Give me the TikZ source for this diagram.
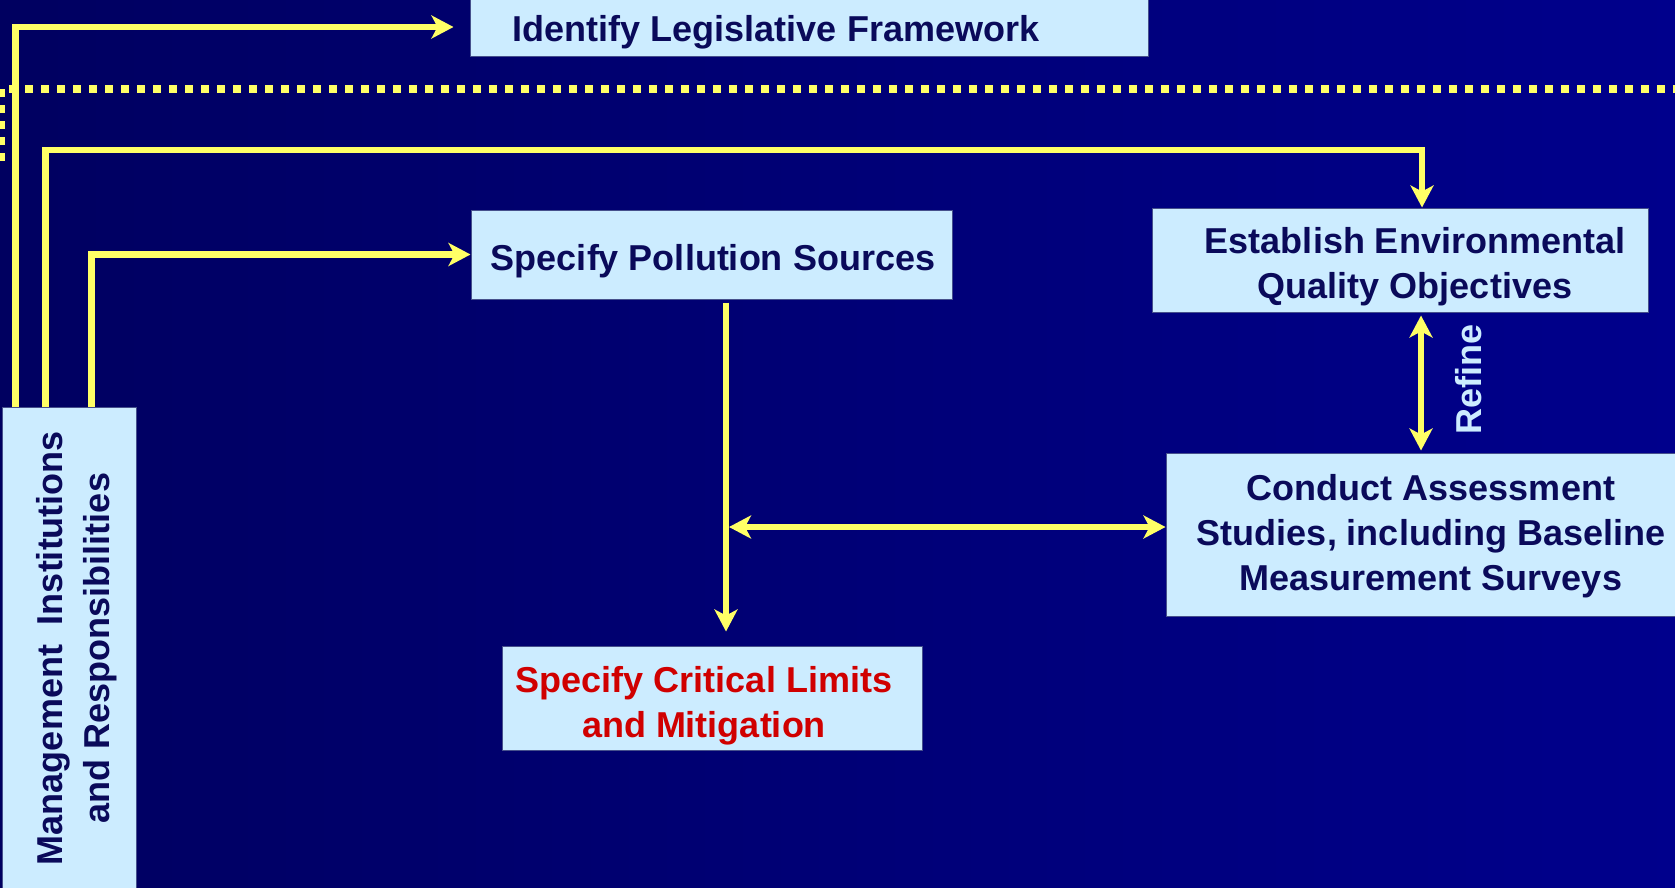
\documentclass[tikz,border=0pt]{standalone}
\usepackage{fontspec}
\setmainfont{Liberation Sans}
\usetikzlibrary{arrows.meta}
\definecolor{bgL}{RGB}{0,0,96}
\definecolor{bgR}{RGB}{0,0,140}
\definecolor{boxfill}{RGB}{204,236,255}
\definecolor{boxline}{RGB}{70,80,140}
\definecolor{navytext}{RGB}{10,10,90}
\definecolor{redtext}{RGB}{208,0,0}
\definecolor{yel}{RGB}{255,255,102}
\begin{document}
\begin{tikzpicture}[x=1pt,y=-1pt,
 box/.style={draw=boxline, line width=1pt, fill=boxfill, inner sep=0pt},
 txt/.style={font=\fontsize{36}{45}\selectfont\bfseries, text=navytext, align=center, inner sep=0pt},
 conn/.style={draw=yel, line width=6.5pt, line join=miter},
 arr/.style={conn, -{Stealth[length=22pt,width=23pt,inset=6pt]}},
 darr/.style={conn, {Stealth[length=22pt,width=23pt,inset=6pt]}-{Stealth[length=22pt,width=23pt,inset=6pt]}},
 dotline/.style={draw=yel, line width=8pt, dash pattern=on 8pt off 8pt}]
\useasboundingbox (0,0) rectangle (1675,888);
\shade[left color=bgL, right color=bgR] (0,0) rectangle (1675,888);

% boxes
\node[box, minimum width=678pt, minimum height=60pt] (legis) at (809,27) {};
\node[box, minimum width=481pt, minimum height=89pt] (spec) at (711.5,254.5) {};
\node[box, minimum width=496pt, minimum height=104pt] (estab) at (1400,260) {};
\node[box, minimum width=524pt, minimum height=163pt] (conduct) at (1428,534.5) {};
\node[box, minimum width=420pt, minimum height=104pt] (crit) at (712,698) {};
\node[box, minimum width=134pt, minimum height=493pt] (mgmt) at (69,653.5) {};

% texts
\node[txt] (legisT) at (776,32) {Identify Legislative Framework};
\node[txt] (specT) at (713,261) {Specify Pollution Sources};
\node[txt] (estabT) at (1415,267) {Establish Environmental\\Quality Objectives};
\node[txt] (conductT) at (1431,536) {Conduct Assessment\\Studies, including Baseline\\Measurement Surveys};
\node[txt, text=redtext] (critT) at (704,706) {Specify Critical Limits\\and Mitigation};
\node[txt, rotate=90, font=\fontsize{36}{47}\selectfont\bfseries] (mgmtT) at (77,648) {Management\ \ Institutions\\and Responsibilities};
\node[txt, rotate=90, text=boxfill] (refineT) at (1469,379) {Refine};

% dotted boundary
\coordinate (d1) at (1,161);
\coordinate (d2) at (1,89);
\coordinate (d3) at (1680,89);
\draw[dotline] (d1) -- (d2) -- (d3);

% connectors
\draw[arr, shorten >=16pt] ([xshift=14pt]mgmt.north west) |- (legis.west);
\coordinate (c2) at (1422,150);
\draw[arr] ([xshift=44pt]mgmt.north west) |- (c2) -- ([xshift=22pt]estab.north);
\draw[arr] ([xshift=90pt]mgmt.north west) |- (spec.west);
\draw[arr, shorten <=3pt, shorten >=14pt] ([xshift=14.5pt]spec.south) -- ([xshift=14pt]crit.north);
\coordinate (j) at (726,527);
\draw[darr, shorten <=3pt] (j) -- (conduct.west |- j);
\draw[darr, shorten <=3pt, shorten >=2pt] ([xshift=21pt]estab.south) -- ([xshift=-7pt]conduct.north);
\end{tikzpicture}
\end{document}
